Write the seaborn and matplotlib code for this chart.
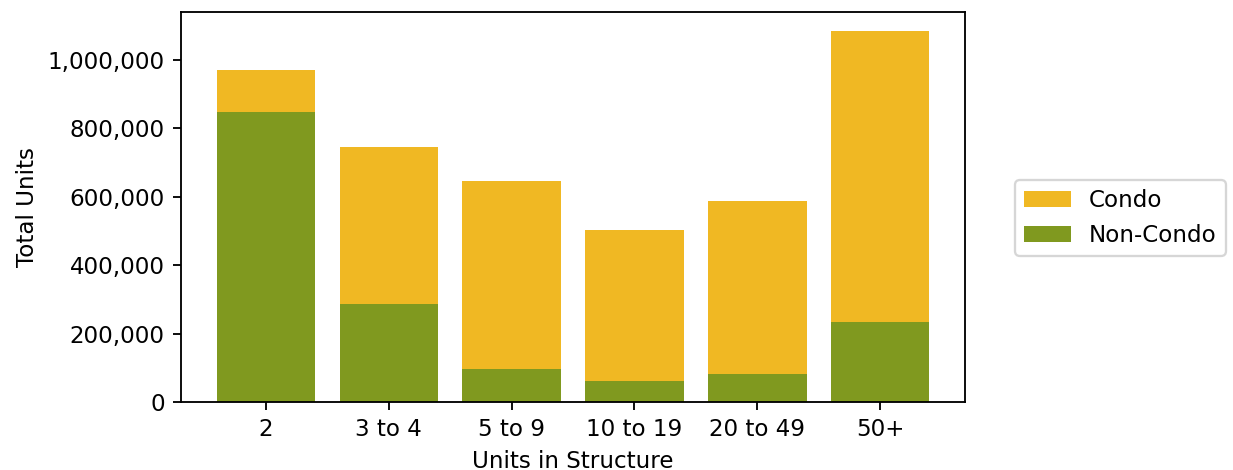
import pandas as pd
import seaborn as sns
import matplotlib.pyplot as plt
from matplotlib.ticker import FuncFormatter

structure = ['2', '3 to 4', '5 to 9', '10 to 19', '20 to 49', '50+']
non_condo = [849000, 287000, 95500, 61300, 81000, 234800]
condo = [122700, 459000, 551100, 442200, 507000, 850800]

df = pd.DataFrame({'structure': structure, 'condo': condo, 'non_condo': non_condo})
df['total'] = df['condo'] + df['non_condo']

plt.rcParams['font.family'] = ['DejaVu Sans']
DPI = 166

fig = plt.figure(figsize=(1233 / DPI, 470 / DPI), dpi=DPI)
ax = fig.add_axes([0.1468, 0.1447, 0.7827 - 0.1468, 0.9745 - 0.1447])

sns.barplot(data=df, x='structure', y='total', color='#F0B823', saturation=1,
            width=0.8, linewidth=0, label='Condo', ax=ax)
sns.barplot(data=df, x='structure', y='non_condo', color='#80991F', saturation=1,
            width=0.8, linewidth=0, label='Non-Condo', ax=ax)

ax.yaxis.set_major_formatter(FuncFormatter(lambda v, p: f'{int(v):,}'))
ax.set_xlabel('Units in Structure')
ax.set_ylabel('Total Units')
ax.set_xlim(-0.69, 5.69)
ax.legend(loc='center left', bbox_to_anchor=(1.064, 0.472), borderaxespad=0)

fig.savefig('out.png', dpi=DPI)
